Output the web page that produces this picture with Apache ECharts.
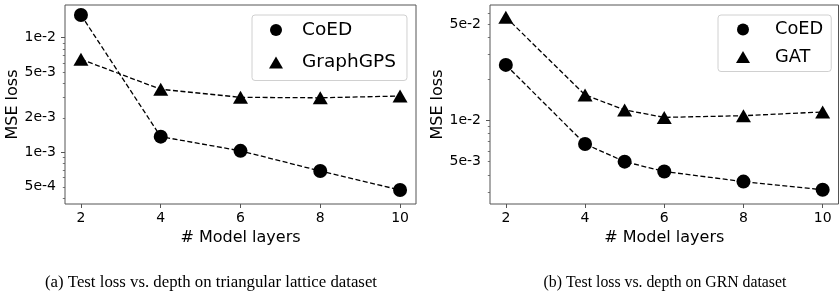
<!DOCTYPE html>
<html>
<head>
<meta charset="utf-8">
<script src="https://cdn.jsdelivr.net/npm/echarts@6/dist/echarts.min.js"></script>
<style>
html, body { margin: 0; padding: 0; background: #fff; }
#chart { width: 839px; height: 295px; }
</style>
</head>
<body>
<div id="chart"></div>
<script>
// data
var layers = [2, 4, 6, 8, 10];
var layersGrn = [2, 4, 5, 6, 8, 10];
var coedLattice = [1.58e-2, 1.37e-3, 1.03e-3, 6.87e-4, 4.69e-4];
var graphgpsLattice = [6.48e-3, 3.55e-3, 3.02e-3, 2.99e-3, 3.1e-3];
var coedGrn = [2.53e-2, 6.73e-3, 5.0e-3, 4.24e-3, 3.58e-3, 3.12e-3];
var gatGrn = [5.63e-2, 1.53e-2, 1.19e-2, 1.05e-2, 1.08e-2, 1.15e-2];

var xTicks = [2, 4, 6, 8, 10];
var latticeLabels = [5e-4, 1e-3, 2e-3, 5e-3, 1e-2];
var latticeMajor = [1e-3, 1e-2];
var latticeMinor = [4e-4, 5e-4, 6e-4, 7e-4, 8e-4, 9e-4, 2e-3, 3e-3, 4e-3, 5e-3, 6e-3, 7e-3, 8e-3, 9e-3];
var grnLabels = [5e-3, 1e-2, 5e-2];
var grnMajor = [1e-2];
var grnMinor = [3e-3, 4e-3, 5e-3, 6e-3, 7e-3, 8e-3, 9e-3, 2e-2, 3e-2, 4e-2, 5e-2, 6e-2];

var captions = ['(a) Test loss vs. depth on triangular lattice dataset', '(b) Test loss vs. depth on GRN dataset'];

var FONT = 'DejaVu Sans';
var SPINE = '#555';

function pairs(xs, ys) {
	var out = [];
	for (var i = 0; i < xs.length; i++) {
		out.push([xs[i], ys[i]]);
	}
	return out;
}

function xAxisFor(grid) {
	return {
		type: 'value', gridIndex: grid, min: 1.6, max: 10.4,
		name: '# Model layers', nameLocation: 'middle', nameGap: 22,
		nameTextStyle: { fontFamily: FONT, fontSize: 16, color: '#000' },
		axisLine: { show: false },
		axisTick: { show: true, length: 4, customValues: xTicks, lineStyle: { color: SPINE, width: 1 } },
		axisLabel: { customValues: xTicks, margin: 7, fontFamily: FONT, fontSize: 14, color: '#000', formatter: function(v) { return String(v); } },
		splitLine: { show: false }
	};
}

function yAxisFor(grid, min, max, major, labels) {
	return {
		type: 'log', gridIndex: grid, min: min, max: max, position: 'left',
		name: 'MSE loss', nameLocation: 'middle', nameGap: 39,
		nameTextStyle: { fontFamily: FONT, fontSize: 16, color: '#000' },
		axisLine: { show: false },
		axisTick: { show: true, length: 4, customValues: major, lineStyle: { color: SPINE, width: 1 } },
		axisLabel: { customValues: labels, margin: 9, fontFamily: FONT, fontSize: 14, color: '#000', formatter: function(v) { return Number(v).toExponential(0).replace('+', ''); } },
		splitLine: { show: false }
	};
}

function minorAxisFor(grid, min, max, minor) {
	return {
		type: 'log', gridIndex: grid, min: min, max: max, position: 'left', offset: 0,
		axisLine: { show: false },
		axisTick: { show: true, length: 2.2, customValues: minor, lineStyle: { color: SPINE, width: 0.8 } },
		axisLabel: { show: false },
		splitLine: { show: false }
	};
}

function seriesFor(name, xi, yi, xs, ys, symbol, size) {
	return {
		name: name, type: 'line', xAxisIndex: xi, yAxisIndex: yi,
		data: pairs(xs, ys),
		symbol: symbol, symbolSize: size, showSymbol: true,
		itemStyle: { color: '#000', borderWidth: 0 },
		lineStyle: { color: '#000', width: 1.3, type: [5, 2.5] },
		emphasis: { disabled: true }
	};
}

var mapChart = echarts.init(document.getElementById('chart'), null, { renderer: 'canvas' });

var option = {
	animation: false,
	backgroundColor: '#fff',
	grid: [
		{ left: 65, top: 5, width: 351, height: 199, show: true, borderColor: SPINE, borderWidth: 1, backgroundColor: 'transparent', containLabel: false, outerBoundsMode: 'none' },
		{ left: 490, top: 5, width: 348.5, height: 199, show: true, borderColor: SPINE, borderWidth: 1, backgroundColor: 'transparent', containLabel: false, outerBoundsMode: 'none' }
	],
	xAxis: [xAxisFor(0), xAxisFor(1)],
	yAxis: [
		yAxisFor(0, 3.54e-4, 1.93e-2, latticeMajor, latticeLabels),
		minorAxisFor(0, 3.54e-4, 1.93e-2, latticeMinor),
		yAxisFor(1, 2.46e-3, 6.9e-2, grnMajor, grnLabels),
		minorAxisFor(1, 2.46e-3, 6.9e-2, grnMinor)
	],
	legend: [
		{
			left: 252, top: 15, orient: 'vertical',
			data: [{ name: 'CoED', icon: 'circle' }, { name: 'GraphGPS', icon: 'triangle' }],
			itemWidth: 14, itemHeight: 12, itemGap: 12.5,
			padding: [5, 11, 8, 17],
			borderColor: '#d0d0d0', borderWidth: 1, borderRadius: 3, backgroundColor: '#fff',
			textStyle: { fontFamily: FONT, fontSize: 18.5, color: '#000', lineHeight: 20, padding: [0, 0, 0, 14] },
			selectedMode: false
		},
		{
			left: 718, top: 15, orient: 'vertical',
			data: [{ name: 'CoED ', icon: 'circle' }, { name: 'GAT', icon: 'triangle' }],
			itemWidth: 14, itemHeight: 12, itemGap: 8.5,
			padding: [5, 8, 5, 18],
			borderColor: '#d0d0d0', borderWidth: 1, borderRadius: 3, backgroundColor: '#fff',
			textStyle: { fontFamily: FONT, fontSize: 17.8, color: '#000', lineHeight: 19, padding: [0, 0, 0, 20] },
			formatter: function(n) { return n.trim(); },
			selectedMode: false
		}
	],
	series: [
		seriesFor('CoED', 0, 0, layers, coedLattice, 'circle', 14),
		seriesFor('GraphGPS', 0, 0, layers, graphgpsLattice, 'triangle', [15, 13]),
		seriesFor('CoED ', 1, 2, layersGrn, coedGrn, 'circle', 14),
		seriesFor('GAT', 1, 2, layersGrn, gatGrn, 'triangle', [15, 13])
	],
	graphic: [
		{ type: 'text', x: 211, y: 283, style: { text: captions[0], align: 'center', verticalAlign: 'middle', font: '16.8px "Liberation Serif"', fill: '#000' } },
		{ type: 'text', x: 665, y: 283, style: { text: captions[1], align: 'center', verticalAlign: 'middle', font: '15.8px "Liberation Serif"', fill: '#000' } }
	]
};
mapChart.setOption(option, true);
</script>
</body>
</html>
